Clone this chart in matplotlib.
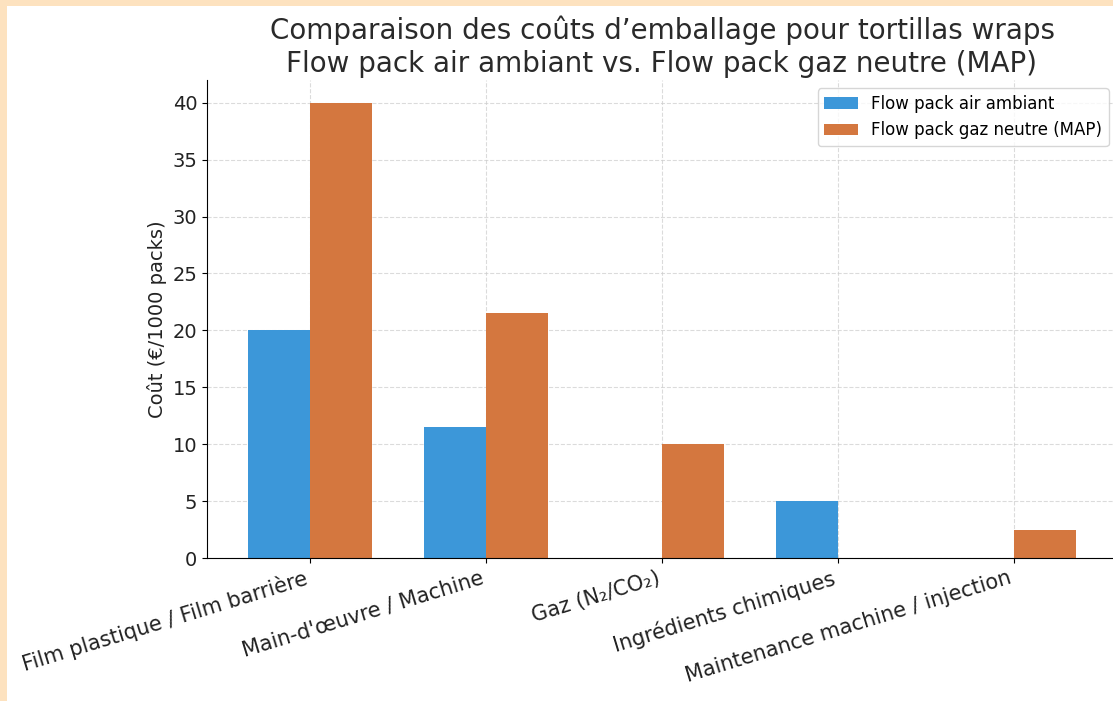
import matplotlib
matplotlib.use("Agg")
import matplotlib.pyplot as plt
import numpy as np
from matplotlib.patches import Rectangle

categories = ["Film plastique / Film barrière", "Main-d'œuvre / Machine",
              "Gaz (N₂/CO₂)", "Ingrédients chimiques", "Maintenance machine / injection"]
air_ambiant = [20, 11.5, 0, 5, 0]
gaz_neutre = [40, 21.5, 10, 0, 2.5]
series_names = ["Flow pack air ambiant", "Flow pack gaz neutre (MAP)"]
title = "Comparaison des coûts d’emballage pour tortillas wraps\nFlow pack air ambiant vs. Flow pack gaz neutre (MAP)"
ylabel = "Coût (€/1000 packs)"

fig = plt.figure(figsize=(11.13, 7.01), dpi=100)
fig.patch.set_facecolor("#FDE2BF")
fig.patches.append(Rectangle((7/1113, 0), 1 - 7/1113, 1 - 6/701, transform=fig.transFigure,
                             facecolor="white", edgecolor="none", zorder=-1))

ax = fig.add_axes([207/1113, 1 - 558/701, (1117 - 207)/1113, (558 - 80)/701])
ax.set_facecolor("white")
x = np.arange(len(categories))
w = 0.35
ax.bar(x - w/2, air_ambiant, w, color="#3C97D9", label=series_names[0])
ax.bar(x + w/2, gaz_neutre, w, color="#D4773F", label=series_names[1])

ax.set_xticks(x)
ax.set_xticklabels(categories, rotation=17, ha="right", fontsize=15, color="#222222")
ax.tick_params(axis="y", labelsize=14, labelcolor="#222222")
ax.set_ylabel(ylabel, fontsize=14, color="#222222")
ax.set_title(title, fontsize=20, color="#2a2a2a")
ax.set_axisbelow(True)
ax.grid(True, linestyle="--", color="#cccccc", alpha=0.7, linewidth=0.8)
ax.spines["top"].set_visible(False)
ax.spines["right"].set_visible(False)
ax.legend(loc="upper right", fontsize=12)

fig.savefig("out.png", dpi=100, facecolor=fig.get_facecolor())
